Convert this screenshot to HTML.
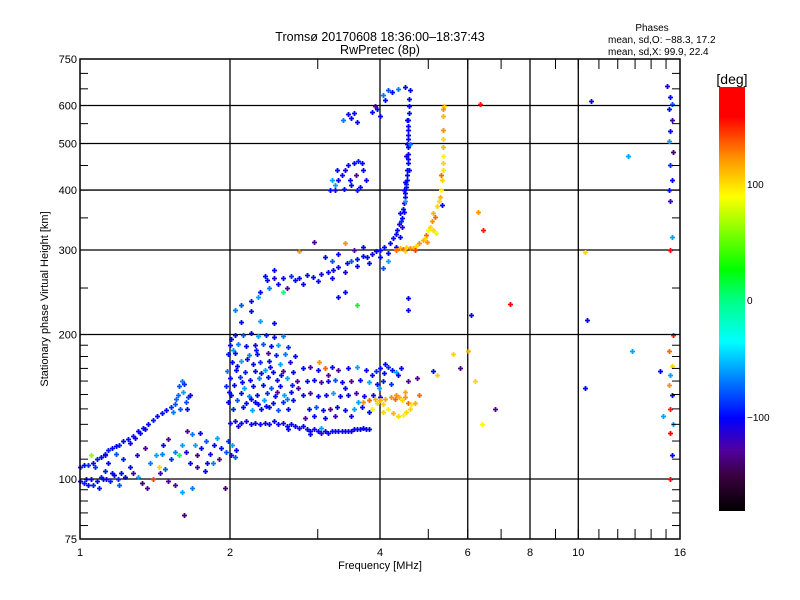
<!DOCTYPE html>
<html><head><meta charset="utf-8"><style>
body{margin:0;background:#fff;}
svg{display:block;font-family:"Liberation Sans",sans-serif;}
</style></head><body>
<svg id="chart" width="800" height="600" xmlns="http://www.w3.org/2000/svg">
<rect width="800" height="600" fill="#fff"/>
<defs><linearGradient id="cb" x1="0" y1="1" x2="0" y2="0">
<stop offset="0" stop-color="#000"/><stop offset="0.083" stop-color="#3a0040"/><stop offset="0.144" stop-color="#5000a0"/><stop offset="0.219" stop-color="#0000ff"/><stop offset="0.4" stop-color="#00ffff"/><stop offset="0.5" stop-color="#00ff80"/><stop offset="0.57" stop-color="#00ff00"/><stop offset="0.742" stop-color="#ffff00"/><stop offset="0.828" stop-color="#ff9900"/><stop offset="0.93" stop-color="#ff0000"/><stop offset="1" stop-color="#ff0000"/>
</linearGradient></defs>
<text x="380" y="41" font-size="12.5" text-anchor="middle">Tromsø 20170608 18:36:00–18:37:43</text>
<text x="380" y="54" font-size="12.5" text-anchor="middle">RwPretec (8p)</text>
<text x="652" y="31" font-size="10" text-anchor="middle">Phases</text>
<text x="608" y="43" font-size="10">mean, sd,O:  −88.3, 17.2</text>
<text x="608" y="55" font-size="10">mean, sd,X:   99.9, 22.4</text>
<g id="grid"></g>
<g id="pts"></g>
<rect x="80" y="59" width="600" height="480" fill="none" stroke="#000" stroke-width="1.5"/>
<g id="ticks"></g>
<text x="380" y="569" font-size="11" text-anchor="middle">Frequency [MHz]</text>
<text x="48" y="299" font-size="11" text-anchor="middle" transform="rotate(-90 48 299)">Stationary phase Virtual Height [km]</text>
<rect x="719" y="87" width="26" height="424" fill="url(#cb)"/>
<text x="732" y="84" font-size="14" text-anchor="middle">[deg]</text>
<text x="747" y="188" font-size="10">100</text>
<text x="747" y="304" font-size="10">0</text>
<text x="747" y="421" font-size="10">−100</text>
</svg>
<script>
const xTicks=[1,2,4,6,8,10,16];
const xMinor=[3,5,7,9,11,12,13,14,15];
const yMajor=[75,100,200,300,400,500,600,750];
const yGrid=[100,200,300,400,500,600];
const yMinor=[80,85,90,95,110,120,130,140,150,160,170,180,190,250,350,450,550,650,700];
const eTrace=[[1.00,106,-95],[1.02,107,-100],[1.04,107,-90],[1.06,108,-100],[1.08,110,-95],[1.10,111,-100],[1.12,113,-98],[1.14,115,-95],[1.16,116,-100],[1.18,117,-100],[1.20,118,-95],[1.22,120,-100],[1.25,121,-98],[1.28,123,-95],[1.31,126,-100],[1.34,128,-98],[1.37,130,-100],[1.40,133,-95],[1.43,135,-100],[1.46,137,-98],[1.49,139,-100],[1.52,141,-90],[1.55,143,-80],[1.57,150,-75],[1.58,156,-80],[1.60,160,-70],[1.62,158,-90],[1.56,147,-75],[1.63,145,-80],[1.65,148,-85],[1.59,140,-80],[1.26,119,-105],[1.29,122,-110],[1.32,125,-100],[1.35,127,-105],[1.12,112,-110],[1.61,152,-60],[1.64,140,-100],[1.54,138,-70],[1.66,150,-110]];
const eLow=[[1.00,99,-100],[1.02,98,-95],[1.03,100,-100],[1.05,100,-105],[1.06,97,-95],[1.08,99,-100],[1.10,101,-95],[1.11,100,-100],[1.13,100,-110],[1.15,99,-95],[1.17,102,-100],[1.19,100,-95],[1.20,97,-80],[1.21,103,-100],[1.23,101,-105],[1.12,104,-95],[1.07,106,-90],[1.26,106,-100],[1.28,103,-120],[1.31,101,-60],[1.33,98,-140],[1.04,97,-100],[1.09,96,-95],[1.16,103,-100],[1.36,96,-130],[1.40,100,140],[1.45,103,-120],[1.48,105,-80],[1.50,99,-130],[1.55,97,-130],[1.60,94,-60],[1.62,84,-140],[1.68,96,-70],[1.72,106,-120],[1.78,104,-100],[1.85,108,-70],[1.90,110,-130],[1.95,96,-140],[2.01,112,-110],[2.05,111,-80]];
const eScatter=[[1.14,108,-100],[1.22,110,-95],[1.30,112,-110],[1.35,116,-130],[1.38,108,-70],[1.42,112,-60],[1.44,106,100],[1.47,118,-100],[1.50,121,-130],[1.52,110,-90],[1.55,114,-70],[1.58,112,10],[1.60,118,-60],[1.63,114,-110],[1.66,108,-100],[1.70,118,-60],[1.72,112,-140],[1.75,116,-100],[1.79,120,-80],[1.82,113,-110],[1.86,118,-100],[1.88,122,-60],[1.92,116,-100],[1.96,114,-80],[1.98,120,-90],[2.02,118,-60],[2.06,115,-100],[1.64,126,-130],[1.68,124,-70],[1.74,125,-100],[1.05,112,60],[1.18,113,-80],[1.46,113,-70],[1.80,108,-100]];
const fBlob=[[2.05,200,-100],[2.12,200,-80],[2.20,201,-100],[2.28,199,-60],[2.36,200,-95],[2.45,198,-100],[2.55,199,-70],
[2.00,190,-100],[2.08,191,-70],[2.15,189,-100],[2.25,190,-110],[2.33,191,-80],[2.42,189,-100],[2.50,190,-60],[2.62,188,-90],
[1.98,182,-95],[2.05,183,-100],[2.18,181,-70],[2.27,182,-100],[2.38,183,-130],[2.47,181,-95],[2.58,182,-70],[2.70,180,-100],
[2.02,175,-100],[2.10,176,-60],[2.22,174,-100],[2.30,175,-90],[2.40,176,-100],[2.52,174,-60],[2.64,175,-110],
[1.97,168,-70],[2.06,169,-100],[2.14,167,-95],[2.24,168,-100],[2.35,169,-60],[2.44,167,-100],[2.56,168,-130],[2.68,167,-100],
[2.00,162,-100],[2.09,163,-90],[2.19,161,-100],[2.29,162,-70],[2.38,163,-100],[2.49,161,-100],[2.60,162,-60],
[1.96,156,-90],[2.04,157,-100],[2.13,155,-60],[2.22,156,-100],[2.33,157,-100],[2.42,155,-80],[2.52,156,-100],[2.66,157,-95],[2.74,155,-130],
[2.01,150,-100],[2.10,151,-100],[2.18,149,-70],[2.27,150,-100],[2.37,151,-90],[2.46,149,-100],[2.57,150,-60],
[1.98,145,-100],[2.07,146,-80],[2.15,144,-100],[2.25,145,-100],[2.34,146,-60],[2.44,144,-100],[2.55,145,-90],[2.68,146,-100],
[2.03,140,-95],[2.12,141,-100],[2.21,139,-60],[2.31,140,-100],[2.40,141,-100],[2.50,139,-80],[2.62,140,-100],
[2.10,212,-100],[2.30,213,-60],[2.45,211,-100],[2.05,225,-70],[2.20,224,-100],[2.01,196,-100],[2.03,186,-60],[2.07,172,-100],[2.16,178,-100],[2.26,186,-95],[2.31,166,-100],[2.41,171,-100],[2.48,152,-130],[2.36,142,-100],[2.60,147,-70],[2.72,160,-130],[1.99,152,-100],[2.11,159,-100],[2.20,147,-100],[2.28,143,-100],[2.53,165,-100],[2.65,152,-100]];
const eLine=[[2.00,131,-100],[2.05,132,-105],[2.10,131,-100],[2.15,132,-110],[2.20,130,-100],[2.25,131,-105],[2.30,130,-100],[2.35,131,-110],[2.40,130,-100],[2.45,132,-105],[2.50,130,-100],[2.55,131,-110],[2.60,129,-100],[2.65,130,-105],[2.70,129,-100],[2.75,128,-110],[2.80,129,-100],[2.85,127,-105],[2.90,126,-100],[2.95,127,-110],[3.00,126,-100],[3.05,125,-115],[3.10,126,-100],[3.15,125,-105],[3.20,126,-100],[3.25,126,-110],[3.30,126,-100],[3.35,126,-105],[3.40,126,-100],[3.45,126,-110],[3.50,126,-100],[3.55,127,-105],[3.60,127,-100],[3.65,127,-100],[3.70,128,-105],[3.75,127,-100],[3.80,127,-100],[2.90,124,-100],[3.05,128,-60],[2.62,127,-100],[2.08,129,-110]];
const eBlob=[[2.80,170,-100],[2.90,171,-130],[3.00,169,-100],[3.10,170,130],[3.20,171,-100],[3.30,169,-130],[3.45,170,-100],[3.60,171,-60],[3.75,169,-100],
[2.85,160,-100],[2.95,161,-100],[3.05,159,-130],[3.15,160,-100],[3.25,161,-80],[3.35,159,-100],[3.50,160,-130],[3.65,161,-100],[3.80,159,-60],
[2.80,150,-100],[2.90,151,-130],[3.00,149,-100],[3.12,150,-100],[3.22,151,-60],[3.32,149,-100],[3.45,150,-100],[3.58,151,-130],[3.72,149,-100],
[2.88,140,-100],[2.98,141,-80],[3.08,139,-100],[3.18,140,-130],[3.28,141,-100],[3.40,139,-100],[3.55,140,-60],[3.68,141,-100],
[2.95,135,-100],[3.10,134,-100],[3.25,135,-120],[3.50,135,-100],[3.02,175,120],[3.15,165,-130],[3.40,155,-100],[3.62,145,-60],[3.80,138,-100],[2.83,134,-130]];
const eBlob4=[[3.85,165,-100],[3.92,168,-90],[4.00,170,-100],[4.08,166,-100],[4.15,171,-90],[4.22,169,-100],[4.30,167,-60],[4.35,165,-100],[3.95,158,-100],[4.05,160,-95],[4.20,158,-90],[3.88,150,-100],[4.00,148,-110],[3.98,155,-60],[4.55,160,-130],[4.75,162,-130],[5.10,168,-100],[4.40,170,-100],[4.10,174,-100]];
const xLow=[[3.70,145,120],[3.80,146,130],[3.90,147,110],[3.95,144,100],[4.00,146,110],[4.05,143,100],[4.10,147,115],[4.20,148,120],[4.28,147,130],[4.36,148,110],[4.42,146,100],[4.50,148,120],[4.55,144,130],[4.60,140,100],[4.45,136,90],[4.35,135,100],[4.25,137,110],[4.15,140,90],[4.62,143,95],[4.70,144,110],[4.30,150,120],[4.48,152,115],[3.85,140,80],[4.05,138,100],[4.52,138,100],[4.80,150,130],[5.20,165,100]];
const fO=[[2.37,260,-100],[2.93,264,-100],[3.22,273,-105],[3.43,282,-100],[3.77,290,-100],[4.00,300,-100],[4.19,310,-100],[4.33,330,-100],[4.39,358,-100],[4.49,387,-105],[4.53,420,-100],[4.55,455,-100],[4.55,492,-100],[4.55,533,-100],[4.57,579,-100],[4.59,647,-100],
[2.45,262,-110],[2.55,262,-100],[2.65,265,-90],[2.75,262,-100],[2.85,266,-100],[3.05,268,-110],[3.15,270,-100],[3.30,277,-100],[3.50,285,-80],[3.60,287,-100],[3.70,292,-100],[3.85,294,-110],[3.92,298,-100],[4.08,305,-100],[4.25,318,-100],[4.30,324,-100],[4.36,340,-110],[4.42,350,-100],[4.44,366,-100],[4.46,375,-110],[4.50,395,-100],[4.51,405,-100],[4.52,412,-90],[4.54,430,-100],[4.54,440,-100],[4.55,465,-100],[4.56,475,-100],[4.54,500,-110],[4.56,510,-100],[4.56,520,-100],[4.55,545,-100],[4.56,560,-100],[4.58,600,-100],[4.58,620,-100],
[2.80,255,-100],[3.00,258,-100],[3.20,262,-100],[3.40,270,-110],[3.60,278,-100],[3.80,282,-100],[4.00,290,-100],[4.15,296,-100],[4.30,305,-100],[4.38,320,-100],[4.42,335,-110],[4.40,345,-90],[4.47,360,-100],[4.50,380,-60],[4.46,400,-100],[4.49,415,-100],[4.58,440,-100],[4.52,470,-110],[4.60,500,-70],[4.53,560,-100],
[2.30,245,-100],[2.40,250,-70],[2.50,255,-100],[2.20,235,-100],[2.10,230,-80],[2.60,250,-130],[2.70,260,-100],[3.10,290,-100],[3.30,295,-100],[3.55,300,-130],[3.70,305,-100],[2.35,265,-100],[2.55,245,0],[2.28,240,-60],[3.20,285,-80],[2.75,298,120],[2.45,272,-100],[3.60,230,20],[3.30,240,-100],[3.40,245,-100]];
const fX=[[4.39,303,110],[4.45,302,130],[4.52,304,100],[4.60,303,120],[4.66,303,110],[4.72,306,100],[4.80,310,120],[4.88,315,110],[4.95,322,130],[5.04,335,100],[5.08,345,120],[5.11,358,110],[5.20,370,100],[5.28,387,110],[5.30,400,90],[5.33,420,100],[5.34,440,95],[5.35,455,100],[5.35,470,90],[5.35,492,110],[5.36,510,100],[5.35,533,120],[5.36,570,110],[5.37,600,100],[4.30,300,130],[4.50,298,100],[4.70,300,140],[4.92,318,100],[5.00,330,90],[5.15,352,130],[5.25,380,100],[5.18,325,80],[5.10,330,100],[4.98,312,120],[5.30,430,130],[5.36,590,120],[5.33,372,-100]];
const fUpper=[[3.17,400,-100],[3.25,410,-60],[3.30,420,-100],[3.35,430,-100],[3.40,440,-110],[3.45,450,-100],[3.55,455,-100],[3.62,460,-95],[3.68,455,-100],[3.20,420,-60],[3.28,440,-100],[3.38,402,-100],[3.50,410,-100],[3.58,430,-130],[3.65,405,-100],[3.70,440,-100],[3.25,400,-110],[3.48,420,-100],[3.60,400,-100],[3.75,420,-100],
[3.37,560,-70],[3.45,575,-100],[3.50,565,-100],[3.55,580,-100],[3.60,555,-100],[3.85,582,-100],[3.95,590,-100],[4.00,570,-100],[3.90,600,-130],[4.05,630,-70],[4.15,645,-80],[4.22,640,-100],[4.35,650,-70],[4.48,655,-100],[4.10,615,-100],[2.95,312,-130],[3.40,310,120],[4.15,285,-60],[4.05,275,-80]];
const fFar=[[6.35,605,150],[6.30,360,120],[6.45,330,150],[7.30,232,160],[6.10,220,-100],[6.00,185,110],[6.20,160,100],[6.40,130,90],[6.80,140,-130],[5.80,170,-130],[5.60,182,100],[4.55,238,-100],[4.55,225,-100],[10.3,297,100],[10.4,214,-100],[10.6,612,-100],[12.6,470,-60],[12.8,185,-60],[10.3,155,-100],[15.3,625,-100],[15.2,590,-100],[15.4,560,-120],[15.3,530,-100],[15.2,505,-60],[15.5,480,-140],[15.3,450,-90],[15.4,420,-100],[15.2,400,-100],[15.3,380,-120],[15.4,320,-60],[15.3,300,160],[15.5,200,170],[15.2,185,130],[15.4,172,100],[15.3,165,-60],[15.2,157,120],[15.4,150,-100],[15.3,140,150],[15.5,130,-60],[15.3,125,160],[15.4,112,-100],[15.3,100,170],[15.1,660,-110],[15.4,605,-80],[14.8,135,-60],[14.6,168,-100]];
const groups=[eTrace,eLow,eScatter,fBlob,eLine,eBlob,eBlob4,xLow,fO,fX,fUpper,fFar];

const X0=80,X1=680,Y0=539,Y1=59;
function xs(f){return X0+(X1-X0)*Math.log(f)/Math.log(16);}
function ys(h){return Y0-(Y0-Y1)*Math.log(h/75)/Math.log(10);}
const stops=[[-180,[0,0,0]],[-150,[58,0,64]],[-128,[80,0,160]],[-101,[0,0,255]],[-36,[0,255,255]],[0,[0,255,128]],[25,[0,255,0]],[87,[255,255,0]],[118,[255,153,0]],[155,[255,0,0]],[180,[255,0,0]]];
function col(p){for(let i=0;i<stops.length-1;i++){const a=stops[i],b=stops[i+1];if(p<=b[0]){const t=Math.max(0,(p-a[0])/(b[0]-a[0]));const c=a[1].map((v,k)=>Math.round(v+(b[1][k]-v)*t));return 'rgb('+c.join(',')+')';}}return 'rgb(255,0,0)';}
const NS='http://www.w3.org/2000/svg';
function ln(parent,x1,y1,x2,y2,w){const l=document.createElementNS(NS,'line');l.setAttribute('x1',x1);l.setAttribute('y1',y1);l.setAttribute('x2',x2);l.setAttribute('y2',y2);l.setAttribute('stroke','#000');l.setAttribute('stroke-width',w);parent.appendChild(l);return l;}
function tx(parent,x,y,s,anchor){const t=document.createElementNS(NS,'text');t.setAttribute('x',x);t.setAttribute('y',y);t.setAttribute('font-size','11');t.setAttribute('text-anchor',anchor);t.textContent=s;parent.appendChild(t);return t;}
const grid=document.getElementById('grid'),ticks=document.getElementById('ticks'),pts=document.getElementById('pts');
xTicks.forEach(f=>{const x=xs(f);
 if(f>1&&f<16){const g=ln(grid,x,Y1,x,Y0,1.3);
 
 }
 const t=tx(ticks,x,Y0+17,String(f),'middle');
 
 
 ln(ticks,x,Y0,x,Y0-10,1);ln(ticks,x,Y1,x,Y1+10,1);});
xMinor.forEach(f=>{const x=xs(f);ln(ticks,x,Y0,x,Y0-10,1);ln(ticks,x,Y1,x,Y1+10,1);});
yGrid.forEach(h=>{const y=ys(h);const g=ln(grid,X0,y,X1,y,1.3);
 
 });
yMajor.forEach(h=>{const y=ys(h);const t=tx(ticks,X0-3,y+4,String(h),'end');
 
 
 ln(ticks,X0,y,X0+8,y,1);ln(ticks,X1,y,X1-8,y,1);});
yMinor.forEach(h=>{const y=ys(h);ln(ticks,X0,y,X0+8,y,1);ln(ticks,X1,y,X1-8,y,1);});
groups.forEach(g=>g.forEach(d=>{const x=Math.round(xs(d[0])),y=Math.round(ys(d[1]));
 const p=document.createElementNS(NS,'path');
 p.setAttribute('d','M'+(x-2)+' '+(y+0.5)+'h5M'+(x+0.5)+' '+(y-2)+'v5');
 p.setAttribute('stroke',col(d[2]));p.setAttribute('stroke-width','1.8');
 
 
 pts.appendChild(p);}));
</script>
</body></html>
